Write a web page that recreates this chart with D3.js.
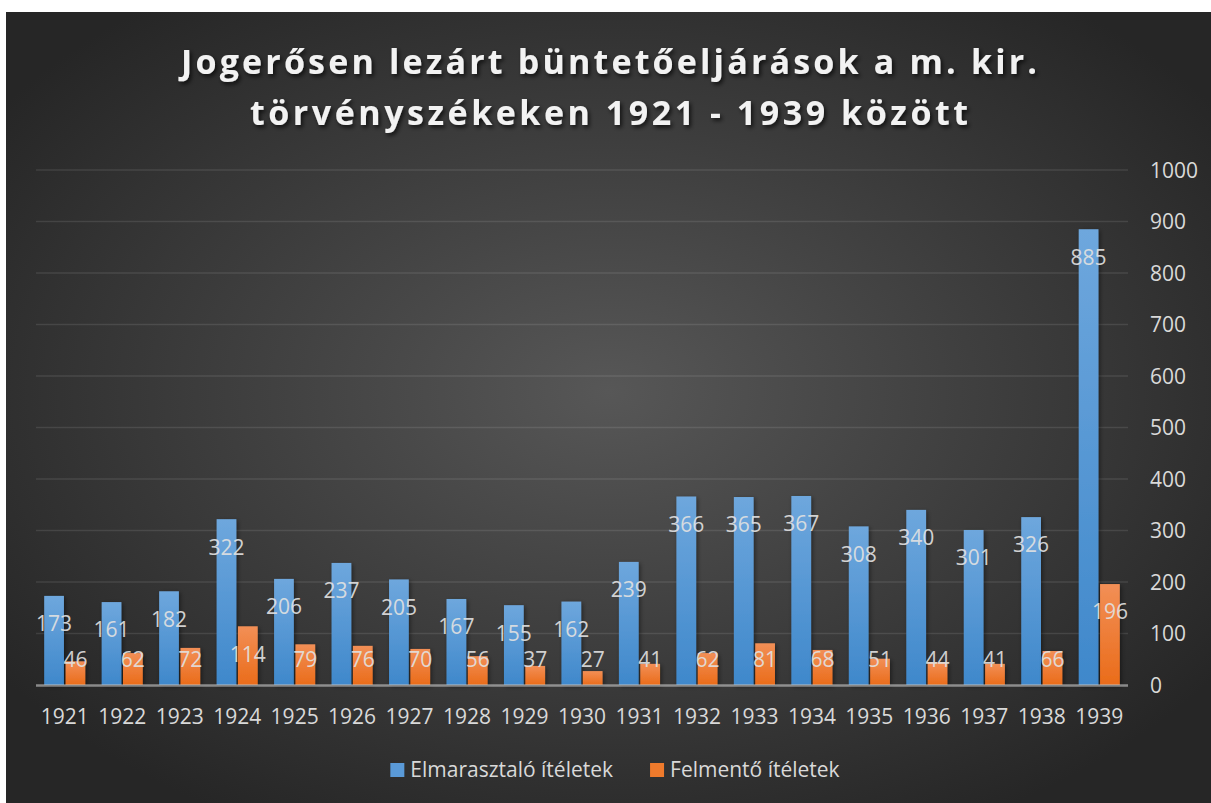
<!DOCTYPE html>
<html>
<head>
<meta charset="utf-8">
<script src="https://cdn.jsdelivr.net/npm/d3@7"></script>
<style>
  html, body { margin: 0; padding: 0; background: #ffffff; }
  svg { display: block; }
</style>
</head>
<body>
<svg id="chart" width="1211" height="803"></svg>
<script>
const years = ["1921","1922","1923","1924","1925","1926","1927","1928","1929","1930","1931","1932","1933","1934","1935","1936","1937","1938","1939"];
const elmarasztalo = [173,161,182,322,206,237,205,167,155,162,239,366,365,367,308,340,301,326,885];
const felmento = [46,62,72,114,79,76,70,56,37,27,41,62,81,68,51,44,41,66,196];
const seriesNames = ["Elmarasztaló ítéletek", "Felmentő ítéletek"];
const yTicks = [0,100,200,300,400,500,600,700,800,900,1000];
const titleLines = ["Jogerősen lezárt büntetőeljárások a m. kir.", "törvényszékeken 1921 - 1939 között"];

const W = 1211, H = 803;
const svg = d3.select("#chart");
const defs = svg.append("defs");

const bg = defs.append("radialGradient").attr("id", "bgGrad")
  .attr("cx", "50%").attr("cy", "48%").attr("r", "62%");
bg.append("stop").attr("offset", "0%").attr("stop-color", "#575757");
bg.append("stop").attr("offset", "100%").attr("stop-color", "#262626");

const blueG = defs.append("linearGradient").attr("id", "blueGrad").attr("x1", 0).attr("y1", 0).attr("x2", 0).attr("y2", 1);
blueG.append("stop").attr("offset", "0%").attr("stop-color", "#6ea7dd");
blueG.append("stop").attr("offset", "100%").attr("stop-color", "#3f88cb");
const orangeG = defs.append("linearGradient").attr("id", "orangeGrad").attr("x1", 0).attr("y1", 0).attr("x2", 0).attr("y2", 1);
orangeG.append("stop").attr("offset", "0%").attr("stop-color", "#f28f56");
orangeG.append("stop").attr("offset", "100%").attr("stop-color", "#ea6c1a");

const shadow = defs.append("filter").attr("id", "barShadow").attr("x", "-30%").attr("y", "-10%").attr("width", "160%").attr("height", "130%");
shadow.append("feDropShadow").attr("dx", 1.5).attr("dy", 1.5).attr("stdDeviation", 2).attr("flood-color", "#000").attr("flood-opacity", 0.45);

const tshadow = defs.append("filter").attr("id", "titleShadow").attr("x", "-10%").attr("y", "-30%").attr("width", "120%").attr("height", "160%");
tshadow.append("feDropShadow").attr("dx", 2).attr("dy", 2.5).attr("stdDeviation", 2).attr("flood-color", "#000").attr("flood-opacity", 0.7);

svg.append("rect").attr("x", 6).attr("y", 12).attr("width", W - 6).attr("height", H - 12).attr("fill", "url(#bgGrad)");

const plotL = 36, plotR = 1128, yBottom = 685, yTop = 170;
const x = d3.scaleBand().domain(years).range([plotL, plotR]).paddingInner(0).paddingOuter(0);
const groupFrac = 0.715;
const x1 = d3.scaleBand().domain(seriesNames)
  .range([x.bandwidth() * (1 - groupFrac) / 2, x.bandwidth() * (1 + groupFrac) / 2])
  .paddingInner(0.075);
const y = d3.scaleLinear().domain([0, 1000]).range([yBottom, yTop]);

const FONT = "'Open Sans', sans-serif";
const FS = 21;

svg.append("g").selectAll("line").data(yTicks.filter(d => d > 0)).join("line")
  .attr("x1", plotL).attr("x2", plotR)
  .attr("y1", d => y(d)).attr("y2", d => y(d))
  .attr("stroke", "rgba(255,255,255,0.10)").attr("stroke-width", 1.3);

const yAxis = d3.axisRight(y).tickValues(yTicks).tickFormat(d3.format("d")).tickSize(0).tickPadding(0);
const yg = svg.append("g").attr("transform", `translate(1150,0)`).call(yAxis);
yg.select(".domain").remove();
yg.selectAll("text").attr("fill", "#d9d9d9").attr("font-family", FONT).attr("font-size", FS).attr("x", 0).attr("dy", "0.35em");

const data = years.map((yr, i) => ({ year: yr, values: [
  { key: seriesNames[0], v: elmarasztalo[i] },
  { key: seriesNames[1], v: felmento[i] }
]}));
const fills = { [seriesNames[0]]: "url(#blueGrad)", [seriesNames[1]]: "url(#orangeGrad)" };

const groups = svg.append("g").selectAll("g").data(data).join("g")
  .attr("transform", d => `translate(${x(d.year)},0)`);
groups.selectAll("rect").data(d => d.values).join("rect")
  .attr("x", d => x1(d.key)).attr("width", x1.bandwidth())
  .attr("y", d => y(d.v)).attr("height", d => yBottom - y(d.v))
  .attr("fill", d => fills[d.key])
  .attr("filter", "url(#barShadow)");

svg.append("line").attr("x1", plotL).attr("x2", plotR).attr("y1", yBottom + 0.5).attr("y2", yBottom + 0.5)
  .attr("stroke", "rgba(190,190,190,0.65)").attr("stroke-width", 2.5);

groups.selectAll("text.lbl").data(d => d.values).join("text").attr("class", "lbl")
  .attr("x", d => x1(d.key) + x1.bandwidth() / 2)
  .attr("y", d => Math.min(y(d.v) + 28, yBottom - 25))
  .attr("dy", "0.35em")
  .attr("text-anchor", "middle")
  .attr("fill", "rgba(225,225,225,0.92)")
  .attr("font-family", FONT).attr("font-size", FS)
  .text(d => d.v);

const xAxis = d3.axisBottom(x).tickSize(0).tickPadding(0);
const xg = svg.append("g").attr("transform", `translate(0,${yBottom})`).call(xAxis);
xg.select(".domain").remove();
xg.selectAll("text").attr("fill", "#d9d9d9").attr("font-family", FONT).attr("font-size", FS)
  .attr("y", 32).attr("dy", "0.35em");

const title = svg.append("g").attr("filter", "url(#titleShadow)");
const tWidths = [856, 718];
const tYs = [62, 113];
titleLines.forEach((t, i) => {
  title.append("text").attr("x", 609).attr("y", tYs[i]).attr("dy", "0.35em")
    .attr("text-anchor", "middle")
    .attr("fill", "#f2f2f2")
    .attr("font-family", FONT).attr("font-weight", 700).attr("font-size", 34)
    .attr("textLength", tWidths[i]).attr("lengthAdjust", "spacing")
    .text(t);
});

const legend = svg.append("g");
const legColors = ["#5a9ad8", "#ee7a2c"];
const items = [];
seriesNames.forEach((name, i) => {
  const g = legend.append("g");
  g.append("rect").attr("x", 0).attr("y", -7).attr("width", 14).attr("height", 14).attr("fill", legColors[i]);
  const tx = g.append("text").attr("x", 20).attr("y", 0).attr("dy", "0.35em")
    .attr("fill", "#d9d9d9").attr("font-family", FONT).attr("font-size", FS).text(name);
  const w = 20 + tx.node().getComputedTextLength();
  items.push({ g, w });
});
const gap = 37;
const total = items.reduce((s, it) => s + it.w, 0) + gap * (items.length - 1);
let start = 615 - total / 2;
items.forEach(it => { it.g.attr("transform", `translate(${start},770)`); start += it.w + gap; });
</script>
</body>
</html>
